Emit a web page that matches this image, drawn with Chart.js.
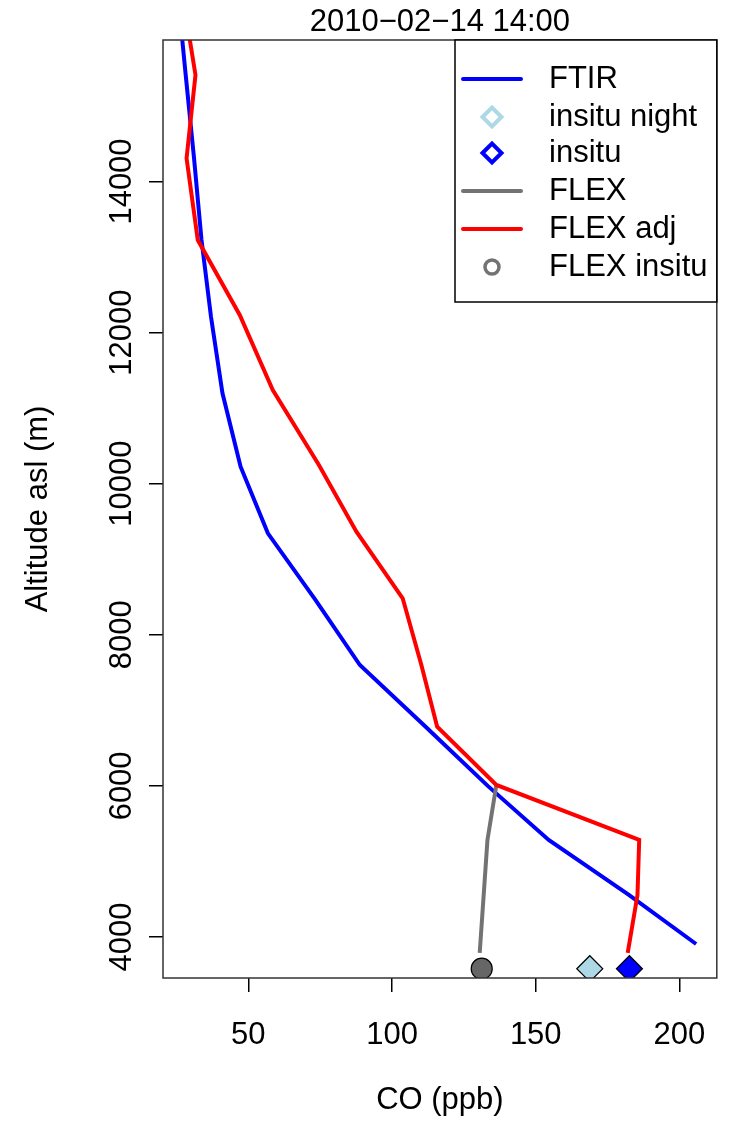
<!DOCTYPE html>
<html>
<head>
<meta charset="utf-8">
<script src="https://cdn.jsdelivr.net/npm/chart.js@4/dist/chart.umd.min.js"></script>
<style>
  html, body { margin: 0; padding: 0; background: #fff; overflow: hidden; }
  canvas { display: block; }
</style>
</head>
<body>
<canvas id="profile" width="731" height="1132"></canvas>
<script>
// CO profiles, 2010-02-14 14:00
const ftirAlt = [16500, 15409, 14307, 13225, 12210, 11197, 10225, 9343, 8460, 7600, 6793, 6000, 5284, 4556, 3907];
const ftirCO  = [25.4, 28.2, 31.1, 33.7, 37.0, 41.0, 47.3, 56.8, 73.4, 88.8, 111.4, 133.3, 154.5, 182.4, 205.8];

const flexAdjAlt = [16500, 15409, 14307, 13225, 12233, 11240, 10250, 9365, 8483, 7600, 6784, 6012, 5284, 4556, 3790];
const flexAdjCO  = [27.0, 31.6, 28.5, 32.4, 47.0, 58.5, 74.5, 87.6, 103.7, 110.2, 115.7, 136.3, 186.0, 185.4, 182.0];

const flexAlt = [6012, 5284, 3790];
const flexCO  = [136.3, 133.2, 130.5];

const stationAlt = 3580;
const insituNightCO = 168.8;
const insituCO = 182.6;
const flexInsituCO = 131.2;

const xTicks = [50, 100, 150, 200];
const yTicks = [4000, 6000, 8000, 10000, 12000, 14000];

const legendLabels = ["FTIR", "insitu night", "insitu", "FLEX", "FLEX adj", "FLEX insitu"];

const FONT = '31px "Liberation Sans", Arial, sans-serif';

function pts(xs, ys) {
    return xs.map((v, i) => ({ x: v, y: ys[i] }));
}

// draws the frame, the text and the legend box
const overlay = {
    id: "overlay",
    afterDraw(chart) {
        const ctx = chart.ctx;
        const a = chart.chartArea;
        const xs = chart.scales.x, ys = chart.scales.y;
        ctx.save();

        ctx.strokeStyle = "#333";
        ctx.lineWidth = 1.5;
        ctx.strokeRect(a.left, a.top, a.right - a.left, a.bottom - a.top);

        ctx.fillStyle = "#000";
        ctx.font = FONT;
        ctx.textAlign = "center";
        ctx.textBaseline = "middle";

        xTicks.forEach(v => ctx.fillText(String(v), xs.getPixelForValue(v), 1035));
        yTicks.forEach(v => {
            ctx.save();
            ctx.translate(122, ys.getPixelForValue(v));
            ctx.rotate(-Math.PI / 2);
            ctx.fillText(String(v), 0, 0);
            ctx.restore();
        });

        // titles
        ctx.fillText("2010\u221202\u221214 14:00", (a.left + a.right) / 2, 22);
        ctx.fillText("CO (ppb)", (a.left + a.right) / 2, 1100);
        ctx.save();
        ctx.translate(38, (a.top + a.bottom) / 2);
        ctx.rotate(-Math.PI / 2);
        ctx.fillText("Altitude asl (m)", 0, 0);
        ctx.restore();

        // legend
        const lx = 455, ly = a.top, lw = a.right - 455, lh = 262;
        ctx.fillStyle = "#fff";
        ctx.fillRect(lx, ly, lw, lh);
        ctx.strokeStyle = "#000";
        ctx.lineWidth = 1.5;
        ctx.strokeRect(lx, ly, lw, lh);

        const rowY = [79, 117, 153, 191, 229, 267];
        const cx = 492;
        ctx.lineWidth = 4;
        ctx.lineCap = "round";
        const line = (y, c) => {
            ctx.strokeStyle = c;
            ctx.beginPath(); ctx.moveTo(463, y); ctx.lineTo(521, y); ctx.stroke();
        };
        const diamond = (y, c) => {
            const r = 9.5;
            ctx.strokeStyle = c;
            ctx.beginPath();
            ctx.moveTo(cx - r, y); ctx.lineTo(cx, y - r);
            ctx.lineTo(cx + r, y); ctx.lineTo(cx, y + r);
            ctx.closePath(); ctx.stroke();
        };
        line(rowY[0], "#0000ff");
        diamond(rowY[1], "#add8e6");
        diamond(rowY[2], "#0000ff");
        line(rowY[3], "#737373");
        line(rowY[4], "#ff0000");
        ctx.strokeStyle = "#737373";
        ctx.lineWidth = 3.5;
        ctx.beginPath(); ctx.arc(cx, rowY[5], 7, 0, Math.PI * 2); ctx.stroke();

        ctx.fillStyle = "#000";
        ctx.textAlign = "left";
        legendLabels.forEach((t, i) => ctx.fillText(t, 549, rowY[i]));
        ctx.restore();
    }
};

const lineStyle = { showLine: true, pointRadius: 0, borderWidth: 4, fill: false, tension: 0 };

new Chart(document.getElementById("profile"), {
    type: "scatter",
    data: {
        datasets: [
            { label: "FTIR", data: pts(ftirCO, ftirAlt), borderColor: "#0000ff", order: 4, ...lineStyle },
            { label: "FLEX", data: pts(flexCO, flexAlt), borderColor: "#737373", order: 3, ...lineStyle },
            { label: "FLEX adj", data: pts(flexAdjCO, flexAdjAlt), borderColor: "#ff0000", order: 2, ...lineStyle },
            {
                label: "FLEX insitu", data: [{ x: flexInsituCO, y: stationAlt }],
                pointStyle: "circle", pointRadius: 10.5, backgroundColor: "#666666",
                borderColor: "#000", borderWidth: 1.2, order: 1
            },
            {
                label: "insitu night", data: [{ x: insituNightCO, y: stationAlt }],
                pointStyle: "rectRot", pointRadius: 13, backgroundColor: "#add8e6",
                borderColor: "#000", borderWidth: 1.2, order: 1
            },
            {
                label: "insitu", data: [{ x: insituCO, y: stationAlt }],
                pointStyle: "rectRot", pointRadius: 13, backgroundColor: "#0000ff",
                borderColor: "#000", borderWidth: 1.2, order: 0
            }
        ]
    },
    options: {
        responsive: false,
        animation: false,
        events: [],
        layout: { padding: { left: 0, right: 8, top: 40, bottom: 0 } },
        plugins: { legend: { display: false }, tooltip: { enabled: false } },
        scales: {
            x: {
                type: "linear", min: 20.3, max: 213,
                afterBuildTicks: s => { s.ticks = xTicks.map(v => ({ value: v })); },
                afterFit: s => { s.height = 154; s.paddingLeft = 0; s.paddingRight = 0; },
                ticks: { display: false },
                grid: { drawOnChartArea: false, drawTicks: true, tickLength: 14, color: "#000", lineWidth: 1.5 },
                border: { display: false }
            },
            y: {
                type: "linear", min: 3457, max: 15873,
                afterBuildTicks: s => { s.ticks = yTicks.map(v => ({ value: v })); },
                afterFit: s => { s.width = 163; s.paddingTop = 0; s.paddingBottom = 0; },
                ticks: { display: false },
                grid: { drawOnChartArea: false, drawTicks: true, tickLength: 14, color: "#000", lineWidth: 1.5 },
                border: { display: false }
            }
        }
    },
    plugins: [overlay]
});
</script>
</body>
</html>
